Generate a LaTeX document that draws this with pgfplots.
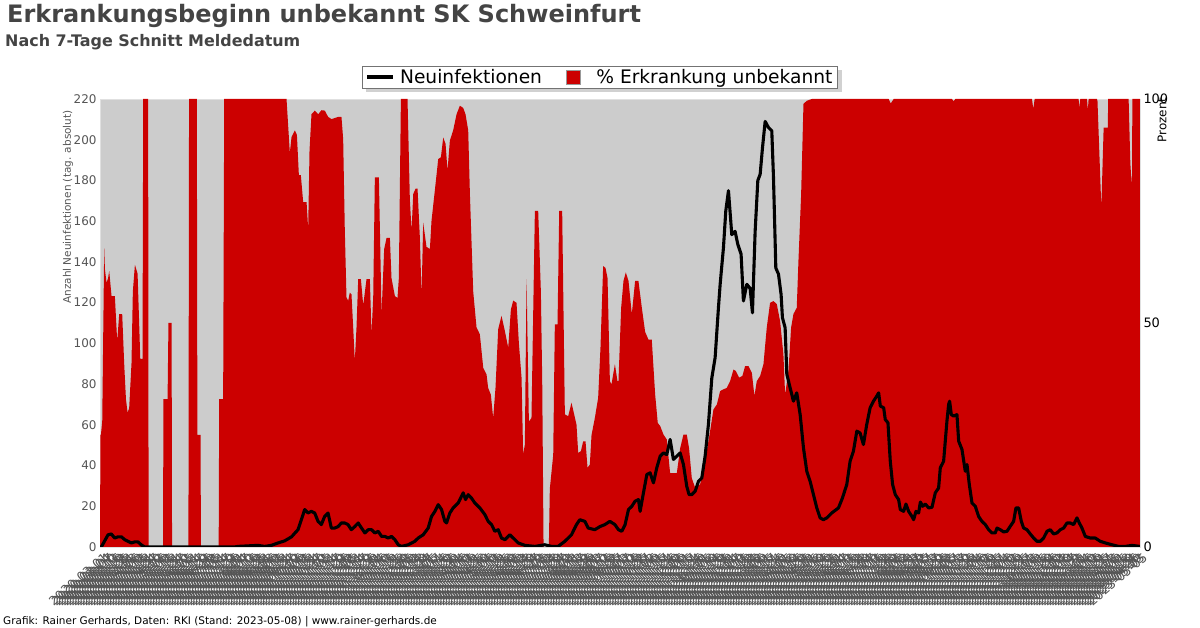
\documentclass[border=0pt]{standalone}
\usepackage{fontspec}
\setmainfont{DejaVu Sans}
\usepackage{pgfplots}
\pgfplotsset{compat=1.18}
\usepackage{pgfcalendar}
\definecolor{red0}{RGB}{204,0,0}
\definecolor{bggrey}{RGB}{204,204,204}
\definecolor{txtgrey}{RGB}{68,68,68}
\definecolor{tickgrey}{RGB}{85,85,85}
\newcount\startjd
\pgfcalendardatetojulian{2020-03-01}{\startjd}
\pgfdeclarelayer{bg}
\pgfsetlayers{bg,main}

\pgfplotstableread{
day pct
0 0
0.5 25
1 25
2.5 28
4.7 66.7
5.5 62
7.3 59
9 60
10.3 61.6
12.9 56
16.6 56
19.2 46
21.5 52
24.8 52
27 41
29 33
30.8 30
32.6 31
35.2 41
36.7 57
39 63
42 61
45 42
47.5 42
48.3 100
53.8 100
54.3 0
70.4 0
70.9 33
75.5 33
76.5 50
80 50
80.5 0
98.8 0
99.5 100
108.2 100
108.8 25
112.3 25
112.8 0
132.6 0
133.2 33
137.6 33
138.8 100
208.4 100
212.1 88
214 91.5
217.7 93
220 92
222.2 83
224.4 83
227 77
230.8 77
232.6 71
234.1 88.5
236.3 96.6
240 97.4
243.8 96.6
247.5 97.5
251.2 97.4
254.9 96
258.7 95.5
266.1 96
269.8 96
271.7 91
273.5 71
275.4 55.7
277.3 55
279.1 56.8
281 56.4
282.9 49
284.7 41.5
286.6 49
288.5 59.8
291.5 59.8
294.1 54
297.8 59.8
301.5 59.8
303.4 47.5
305.3 56
307.1 82.5
311.6 82.5
314.6 52
317.5 66.5
320.2 69
323.9 69
325.7 60
329.5 56
332.4 55.6
333.9 60
336.2 100
343.6 100
346.2 77.6
348.1 70.6
350 78.8
352.6 80
354.8 80
357.4 69
359.3 56
361.1 72.4
364.8 67
368.6 66.5
370.4 72.8
374.9 81
377.9 86.6
380.9 87
383.5 91.4
386.1 90
388.3 84
390.9 90.7
394.6 93
398.4 96.6
402.1 98.5
405.8 98
408.4 96.6
411.4 93
413.3 78.8
417 57
420.7 49
424.4 47.5
428.2 40
431.9 38.5
433.7 35.5
436.7 34
439.3 28.8
441.9 35.5
444.9 48.6
448.6 51.6
452.4 48.2
456.1 44.5
459.1 53
461.7 55
465.4 54.5
468 45.6
471 37.8
472.8 20.6
474.7 22.9
476.6 59.8
479.2 28
482.1 28.8
485.9 75
489.6 75
492.6 57
494.1 37
495.6 0
501.5 0
502.6 13
506.4 20.6
508.2 49.7
511.2 49.7
513.1 75
516.4 75
519.4 29.6
523.1 29.2
526.8 32.2
529.8 29.6
532.4 27.3
534.3 21
537.3 21.4
539.9 23.6
542.5 23.6
544.7 17.7
547.3 18.4
549.2 25
552.9 28.8
556.6 33.3
559.2 44.5
562.2 62.7
564.8 62.3
567.1 60
569.7 37
571.5 36.3
575.3 40.8
578.2 37
579.3 37
582.3 53.4
584.9 59.4
587.5 61.3
590.5 59.4
594.2 52
597.9 59.4
601.6 59.4
605.4 53.4
609.1 48
612.8 46.3
616.5 46.3
620.3 34
623.2 27.7
625.9 27
629.6 25.1
633.3 24
637 16.5
640.7 16.5
644.5 16.5
648.2 22
651.9 25.1
655.6 25.1
658.2 22
661.2 15.4
665 13.2
670.5 14
674.3 16.9
678 21.4
681.7 25.9
685.4 30.7
689.2 31.8
692.9 34.8
696.6 35.2
700.3 35.5
704 37
707.8 39.6
710.4 39.3
714.1 37.8
717.8 38.2
720.8 40.4
724.5 40.4
728.3 38.9
731.2 33.7
733.8 37
737.6 38.2
741.3 40.8
745 49
748.7 54.5
752.5 54.9
756.2 54.2
759.9 50.4
763.6 43
765.5 34
769.2 39.3
772.2 49
774.8 52
778.5 53.4
780.4 63.9
783.4 78.8
786 98.9
789.7 99.6
795.3 100
881.2 100
883.5 99
886.8 100
951.9 100
953.8 99.5
955.7 100
1041.3 100
1042.8 97.8
1044.3 100
1093.4 100
1094.3 98
1095.3 100
1102.8 100
1103.7 97.4
1104.6 100
1113.9 100
1114.5 99.6
1118.8 75.8
1121.4 93.6
1126 93.6
1126.5 100
1149.3 100
1151.2 85.7
1153 80
1153.5 100
1162 100
}\redtab

\pgfplotstableread{
day cases
0 0
1.5 0
5.2 3
9 6
12.7 6.4
16.4 4.4
20.1 5
23.9 5
27.6 3.6
31.3 2.8
35 2
38.8 2.5
42.5 2.5
46.2 1
50 0
150 0
154 0.3
176.6 0.8
184 0.3
191.5 0.8
199 2
206.3 3
214 5
221.2 8.5
225 13.4
228.7 18.4
232.4 16.7
236.1 17.5
239.9 16.7
243.6 12.6
247.3 11
251 15
254.8 16.7
258.5 9.3
262.2 9.3
266 10
269.7 11.8
273.4 11.8
277.1 11
280.8 8.5
284.6 10
288.5 11.8
292.2 9.3
296 6.9
299.7 8.5
303.4 8.5
307.1 6.9
310.9 7.7
314.6 5.2
318.3 5.2
322 4.4
325.7 5.2
329.5 3.6
333.2 1.1
336.9 0.3
344.4 1.1
351.8 2.8
355.5 4.4
361.1 6
366.7 9.3
370.4 15
374.2 17.5
377.9 20.8
381.6 18.4
385.3 12.6
387.2 11.8
390.9 16.7
394.6 19.2
400.2 21.6
405.8 26.6
408.4 23.3
411.4 25.7
415.1 24
418.8 21.6
424.4 19.2
430 15.9
433.7 12.6
437.5 11
441.2 7.7
444.9 8.5
448.6 4.4
452.4 3.6
458 6
461.7 4.4
467.3 2
474.7 0.8
485.9 0.3
497 1.1
504.5 0.3
511.9 0.3
519.4 2.8
526.8 6
532.4 11
536.1 13.4
541.7 12.6
545.5 9.3
552.9 8.5
558.5 10
564.1 11
569.7 12.6
575.3 11
579.3 8.5
583 7.7
586.7 11
590.5 18.4
594.2 20
597.9 22.5
601.6 23.3
603.5 17.5
607.2 26.6
611 35.6
614.7 36.4
618.4 31.5
622.1 38.9
625.9 44.6
629.6 46.2
633.3 45.4
637 52.8
640.7 43
644.5 44.6
648.2 46.2
651.9 40.5
655.6 29.8
658.2 25.7
661.2 25.7
665 27.4
668.7 32.3
672.4 33.9
676.1 44.6
679.8 60.2
683.6 83
687.3 93
691 117.5
692.9 129
696.6 147
699.2 165
702.2 175
705.9 153.4
709.6 155
712.6 148.7
716.3 143.8
718.9 120.8
722.7 129
726.4 127
729 115
732 155
735 180
737.6 183
740.2 196
743.2 209
746.9 206
750.6 204.4
752.5 181.5
755.1 137
758.1 134
761 124
762.5 112.6
765.5 107.7
767.4 84.8
771.1 78.2
774.8 71.6
778.5 75.7
782.3 65
786 48.7
789.7 37.2
793.4 32.3
797.2 25.7
800.9 19.2
804.6 14.3
808.3 13.4
812.1 14.3
817.6 16.7
825.1 19.2
829.5 24
834.4 30.7
838.1 42.1
841.8 47
845.6 56.9
849.3 56
853 50.3
856.7 60.2
860.5 68.4
864.2 71.6
867.9 74.1
870 75.7
871.9 69.2
875.6 68.4
877.4 62.6
880.4 61
883 42.1
885.6 30.7
888.6 25.7
892.3 23.3
894.2 18.4
897.9 17.5
900.5 21.1
903.5 17.5
907.2 15
909.1 13.4
911.7 17.5
914.7 16.7
916.6 22.1
919.2 20
922.1 21.1
925.9 19.2
929.6 19.5
933.3 26.6
937 29
938.9 38.9
942.6 42.1
946.3 61.8
948.2 70
949.3 71.6
951.2 65
953.8 64.3
957.5 65
959.4 52
963.1 47.9
966.8 37.2
968.7 40.5
971.3 30.7
974.3 21.6
978 20
981.7 15
985.4 12.6
989.2 11
992.9 8.5
996.6 6.9
1000.3 6.9
1002.2 9.3
1005.9 8.5
1009.7 7.4
1013.4 7.7
1017.1 10.2
1020.8 12.6
1023.4 19.2
1026.4 19.2
1029.4 12.6
1032 9.3
1035.7 8.5
1039.4 6.4
1043.2 4.4
1046.9 2.8
1050.6 2.8
1054.3 4.4
1058.1 7.7
1061.8 8.5
1065.5 6.4
1069.2 6.9
1073 8.5
1076.7 9.3
1080.4 11.8
1084.1 11.8
1087.9 11
1091.6 14.3
1094.2 11.8
1097.2 9.3
1100.9 5.2
1106.5 4.4
1112.1 4.4
1117.6 2.8
1123.2 2
1130.7 1.1
1138.1 0.3
1145.6 0.3
1153 0.8
1162 0.3
}\blacktab

\begin{document}
\begin{tikzpicture}
\useasboundingbox (0,0) rectangle (1200bp,628bp);
\node[anchor=base west, inner sep=0, text=txtgrey, font=\fontsize{24.1}{28}\selectfont\bfseries] at (7bp,605bp) {Erkrankungsbeginn unbekannt SK Schweinfurt};
\node[anchor=base west, inner sep=0, text=txtgrey, font=\fontsize{16}{18}\selectfont\bfseries] at (5bp,581bp) {Nach 7-Tage Schnitt Meldedatum};
\node[anchor=base west, inner sep=0, font=\fontsize{10.5}{12}\selectfont] at (3bp,4bp) {Grafik: Rainer Gerhards, Daten: RKI (Stand: 2023-05-08) | www.rainer-gerhards.de};

\begin{axis}[
  at={(100bp,81bp)}, anchor=south west, width=1040bp, height=448bp, scale only axis,
  xmin=0, xmax=1162, ymin=0, ymax=100,
  axis background/.style={fill=bggrey},
  axis line style={draw=black!12},
  /pgf/number format/assume math mode=true,
  ytick={0,50,100}, minor ytick={10,20,30,40,60,70,80,90},
  ytick pos=right, yticklabel pos=right, tick align=inside,
  major tick length=5bp, minor tick length=5bp,
  ytick style={black, line width=0.6bp},
  yticklabel style={font=\fontsize{13}{14}\selectfont, text=black},
  xtick={0,3,...,1161}, xtick pos=bottom, scaled x ticks=false,
  xtick style={draw=none},
  xticklabel={\pgfmathtruncatemacro\dnum{\tick}\pgfcalendarjuliantodate{\numexpr\dnum+\startjd\relax}{\yy}{\mm}{\dd}\yy-\mm-\dd},
  xticklabel style={rotate=40, anchor=north east, font=\fontsize{12.5}{13}\selectfont, text=tickgrey, inner sep=1bp, yshift=-5bp},
]
\addplot[fill=red0, draw=none] table[x=day, y=pct] {\redtab} \closedcycle;
\end{axis}

\begin{axis}[
  at={(100bp,81bp)}, anchor=south west, width=1040bp, height=448bp, scale only axis,
  xmin=0, xmax=1162, ymin=0, ymax=220,
  hide x axis, axis line style={draw=none},
  /pgf/number format/assume math mode=true,
  ytick={0,20,...,220}, ytick pos=left, major tick length=0bp,
  yticklabel style={font=\fontsize{12}{13}\selectfont, text=tickgrey},
  legend style={name=leg, at={(0.5,1)}, anchor=south, xshift=-20bp, yshift=11bp, legend columns=2,
    draw=black!55, fill=white, font=\fontsize{18.7}{21}\selectfont,
    inner xsep=3bp, inner ysep=1bp,
    /tikz/every odd column/.append style={column sep=3bp},
    /tikz/every even column/.append style={column sep=22bp}},
]
\addplot[black, line width=3.1bp, line join=round,
  legend image code/.code={\draw[black, line width=3.5bp] (0bp,0bp) -- (26bp,0bp);}]
  table[x=day, y=cases] {\blacktab};
\addlegendentry{Neuinfektionen}
\addlegendimage{legend image code/.code={\draw[fill=red0, draw=black!40] (0bp,-7bp) rectangle (14bp,7bp); \path (25bp,0bp);}}
\addlegendentry{\% Erkrankung unbekannt}
\end{axis}
\begin{pgfonlayer}{bg}
\fill[black!18] ([shift={(4bp,-4bp)}]leg.south west) rectangle ([shift={(4bp,-4bp)}]leg.north east);
\end{pgfonlayer}

\node[rotate=90, font=\fontsize{10.5}{12}\selectfont, text=tickgrey] at (68bp,421bp) {Anzahl Neuinfektionen (tag. absolut)};
\node[rotate=90, font=\fontsize{12}{13}\selectfont] at (1162bp,508bp) {Prozent};
\end{tikzpicture}
\end{document}
